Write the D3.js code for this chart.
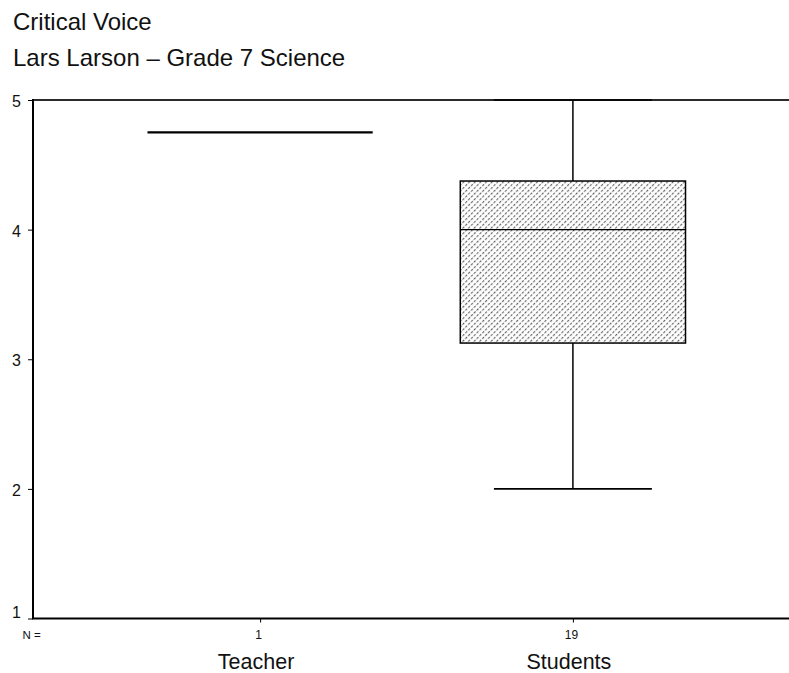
<!DOCTYPE html>
<html>
<head>
<meta charset="utf-8">
<script src="https://cdn.jsdelivr.net/npm/d3@7"></script>
<style>
  html, body { margin: 0; padding: 0; background: #fff; }
  svg { display: block; font-family: "Liberation Sans", Arial, Helvetica, sans-serif; }
</style>
</head>
<body>
<svg id="chart" width="789" height="673"></svg>
<script>
// Box-plot summary per group
const categories = ["Teacher", "Students"];
const counts     = [1, 19];
const mins       = [4.75, 2];
const q1s        = [4.75, 3.125];
const medians    = [4.75, 4];
const q3s        = [4.75, 4.375];
const maxs       = [4.75, 5];
const yTicks     = [1, 2, 3, 4, 5];

const W = 789, H = 673;
const plotLeft = 33, plotTop = 100, plotBottom = 618.5;

const svg = d3.select("#chart");

// hatched fill for the boxes
const defs = svg.append("defs");
const pat = defs.append("pattern")
  .attr("id", "hatch")
  .attr("patternUnits", "userSpaceOnUse")
  .attr("width", 4).attr("height", 4)
  .attr("patternTransform", "rotate(45)");
pat.append("rect").attr("width", 4).attr("height", 4).attr("fill", "#fff");
pat.append("line")
  .attr("x1", 0.6).attr("y1", 0).attr("x2", 0.6).attr("y2", 4)
  .attr("stroke", "#5c5c5c").attr("stroke-width", 1.1)
  .attr("stroke-dasharray", "2.6,1.4");

const x = d3.scalePoint().domain(categories).range([plotLeft, 800]).padding(0.726);
const step = x.step();
const boxW = step * 0.72;
const capW = step * 0.505;

const y = d3.scaleLinear().domain([1, 5]).range([plotBottom, plotTop]);

// Titles
svg.append("text").attr("x", 13).attr("y", 29.5)
  .style("font-size", "24px").attr("fill", "#111").text("Critical Voice");
svg.append("text").attr("x", 13).attr("y", 65.5)
  .style("font-size", "24px").attr("fill", "#111").text("Lars Larson \u2013 Grade 7 Science");

// Top frame line
svg.append("line")
  .attr("x1", plotLeft).attr("x2", W).attr("y1", y(5)).attr("y2", y(5))
  .attr("stroke", "#2a2a2a").attr("stroke-width", 1.8);

// Y axis
const yAxis = svg.append("g").attr("transform", `translate(${plotLeft},0)`)
  .call(d3.axisLeft(y).tickValues(yTicks).tickSize(5).tickPadding(7).tickFormat(d3.format("d")));
yAxis.attr("font-size", null).attr("font-family", null);
yAxis.select(".domain").remove();
yAxis.selectAll(".tick line").attr("stroke", "#000").attr("stroke-width", 1);
yAxis.selectAll(".tick text")
  .style("font-size", "16px").attr("fill", "#111")
  .attr("dy", d => d === 1 ? "-0.05em" : "0.4em");

svg.append("line")
  .attr("x1", plotLeft).attr("x2", plotLeft).attr("y1", y(5) - 0.9).attr("y2", plotBottom)
  .attr("stroke", "#000").attr("stroke-width", 2);

// X axis
const xAxis = svg.append("g").attr("transform", `translate(0,${plotBottom})`)
  .call(d3.axisBottom(x).tickSize(4).tickFormat(""));
xAxis.select(".domain").remove();
xAxis.selectAll(".tick line").attr("stroke", "#000").attr("stroke-width", 1);

svg.append("line")
  .attr("x1", plotLeft - 1).attr("x2", W).attr("y1", plotBottom).attr("y2", plotBottom)
  .attr("stroke", "#000").attr("stroke-width", 2);

// N labels
svg.append("text").attr("x", 22.5).attr("y", 638.5)
  .style("font-size", "11.5px").attr("fill", "#111").text("N =");
svg.selectAll(".nlab").data(categories).join("text")
  .attr("class", "nlab")
  .attr("x", d => x(d) - 1.5).attr("y", 638.5)
  .attr("text-anchor", "middle").style("font-size", "12px").attr("fill", "#111")
  .text((d, i) => counts[i]);

// Category labels
svg.selectAll(".clab").data(categories).join("text")
  .attr("class", "clab")
  .attr("x", d => x(d) - 4).attr("y", 669)
  .attr("text-anchor", "middle").style("font-size", "21.5px").attr("fill", "#111")
  .text(d => d);

// Boxes
const g = svg.append("g");
categories.forEach((c, i) => {
  const cx = x(c);
  if (q1s[i] === q3s[i] && mins[i] === maxs[i]) {
    // single observation: one flat line
    g.append("line")
      .attr("x1", cx - boxW / 2).attr("x2", cx + boxW / 2)
      .attr("y1", y(medians[i])).attr("y2", y(medians[i]))
      .attr("stroke", "#000").attr("stroke-width", 2.2);
    return;
  }
  // whiskers
  g.append("line").attr("x1", cx).attr("x2", cx)
    .attr("y1", y(maxs[i])).attr("y2", y(q3s[i]))
    .attr("stroke", "#000").attr("stroke-width", 1.5);
  g.append("line").attr("x1", cx).attr("x2", cx)
    .attr("y1", y(q1s[i])).attr("y2", y(mins[i]))
    .attr("stroke", "#000").attr("stroke-width", 1.5);
  [maxs[i], mins[i]].forEach(v => {
    g.append("line")
      .attr("x1", cx - capW / 2).attr("x2", cx + capW / 2)
      .attr("y1", y(v)).attr("y2", y(v))
      .attr("stroke", "#000").attr("stroke-width", 1.6);
  });
  // box
  g.append("rect")
    .attr("x", cx - boxW / 2).attr("width", boxW)
    .attr("y", y(q3s[i])).attr("height", y(q1s[i]) - y(q3s[i]))
    .attr("fill", "url(#hatch)").attr("stroke", "#000").attr("stroke-width", 1.5);
  g.append("line")
    .attr("x1", cx - boxW / 2).attr("x2", cx + boxW / 2)
    .attr("y1", y(medians[i])).attr("y2", y(medians[i]))
    .attr("stroke", "#000").attr("stroke-width", 1.3);
});
</script>
</body>
</html>
